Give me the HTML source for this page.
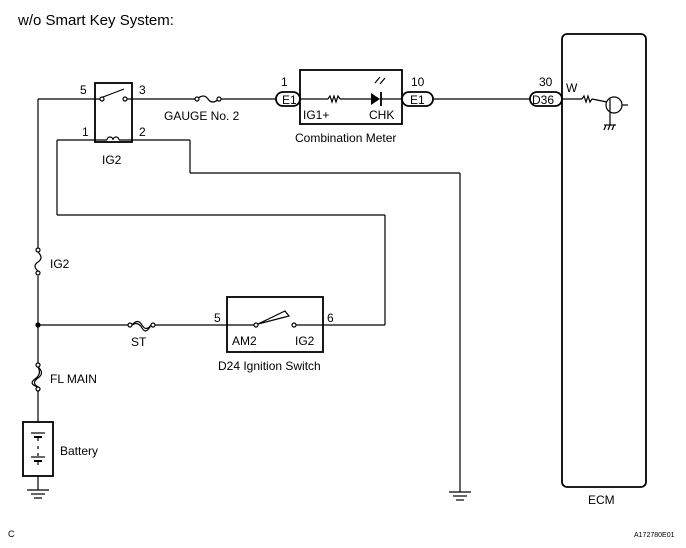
<!DOCTYPE html>
<html><head><style>
html,body{margin:0;padding:0;background:#fff;}
svg{display:block;}
text{font-family:"Liberation Sans",Arial,sans-serif;fill:#000;}
</style></head><body>
<svg width="686" height="548" viewBox="0 0 686 548" xmlns="http://www.w3.org/2000/svg">
<g stroke="#000" stroke-width="1.2" fill="none">
<line x1="38" y1="99" x2="38" y2="248"/>
<line x1="38" y1="276" x2="38" y2="366"/>
<line x1="38" y1="389" x2="38" y2="422"/>
<line x1="38" y1="476" x2="38" y2="490"/>
<line x1="38" y1="99" x2="102" y2="99"/>
<rect x="95" y="83" width="37" height="59" stroke-width="1.8"/>
<circle cx="102" cy="99" r="2" fill="#fff"/>
<circle cx="125" cy="99" r="2" fill="#fff"/>
<line x1="103" y1="97" x2="124" y2="89"/>
<line x1="127" y1="99" x2="197" y2="99"/>
<path d="M197 99 Q204 93 208 99 T219 99"/>
<circle cx="197" cy="99" r="2" fill="#fff"/>
<circle cx="219" cy="99" r="2" fill="#fff"/>
<line x1="221" y1="99" x2="276" y2="99"/>
<line x1="57" y1="140" x2="107" y2="140"/>
<path d="M107 140 a3 3 0 0 1 6 0 a3 3 0 0 1 6 0"/>
<line x1="119" y1="140" x2="190" y2="140"/>
<line x1="190" y1="140" x2="190" y2="173"/>
<line x1="190" y1="173" x2="460" y2="173"/>
<line x1="460" y1="173" x2="460" y2="492"/>
<line x1="57" y1="140" x2="57" y2="215"/>
<line x1="57" y1="215" x2="385" y2="215"/>
<line x1="385" y1="215" x2="385" y2="325"/>
<line x1="385" y1="325" x2="323" y2="325"/>
<rect x="276" y="92" width="24" height="14" rx="7" stroke-width="1.8"/>
<rect x="402" y="92" width="31" height="14" rx="7" stroke-width="1.8"/>
<rect x="530" y="92" width="32" height="14" rx="7" stroke-width="1.8"/>
<rect x="300" y="70" width="102" height="54" stroke-width="1.8"/>
<line x1="300" y1="99" x2="328" y2="99"/>
<path d="M328 99 l2 -3 l2 6 l2 -6 l2 6 l2 -6 l2 3"/>
<line x1="340" y1="99" x2="371" y2="99"/>
<line x1="381" y1="92" x2="381" y2="106" stroke-width="1.8"/>
<line x1="381" y1="99" x2="402" y2="99"/>
<line x1="375" y1="83" x2="380" y2="77"/><line x1="380" y1="84" x2="385" y2="78"/>
<line x1="433" y1="99" x2="530" y2="99"/>
<rect x="562" y="34" width="84" height="453" rx="5" stroke-width="1.8"/>
<line x1="562" y1="99" x2="582" y2="99"/>
<path d="M582 99 l2 -3 l2 6 l2 -6 l2 6 l2 -3"/>
<line x1="592" y1="99" x2="607" y2="102"/>
<circle cx="614" cy="105" r="8"/>
<line x1="610" y1="99" x2="610" y2="112"/>
<line x1="622" y1="105" x2="628" y2="105"/>
<line x1="610" y1="112" x2="610" y2="125"/>
<line x1="604" y1="125" x2="616" y2="125"/>
<line x1="604" y1="130" x2="606" y2="125"/><line x1="608" y1="130" x2="610" y2="125"/><line x1="612" y1="130" x2="614" y2="125"/>
<circle cx="38" cy="250" r="2" fill="#fff"/>
<circle cx="38" cy="273" r="2" fill="#fff"/>
<path d="M38 252 Q44 258 38 262 T38 271"/>
<line x1="38" y1="325" x2="128" y2="325"/>
<circle cx="130" cy="325" r="2" fill="#fff"/>
<circle cx="153" cy="325" r="2" fill="#fff"/>
<path d="M132 325 Q138 318 142 325 T151 325"/>
<path d="M132 325 Q138 321 142 328 T151 325"/>
<line x1="155" y1="325" x2="227" y2="325"/>
<circle cx="38" cy="325" r="2" fill="#000"/>
<circle cx="38" cy="365" r="2" fill="#fff"/>
<circle cx="38" cy="389" r="2" fill="#fff"/>
<path d="M38 367 Q45 373 38 378 T38 387"/>
<path d="M38 367 Q42 374 35 379 T38 387"/>
<rect x="227" y="297" width="96" height="55" stroke-width="1.8"/>
<line x1="227" y1="325" x2="254" y2="325"/>
<circle cx="256" cy="325" r="2" fill="#fff"/>
<path d="M258 324 L285 311 L289 316 Z"/>
<circle cx="294" cy="325" r="2" fill="#fff"/>
<line x1="296" y1="325" x2="323" y2="325"/>
<rect x="23" y="422" width="30" height="54" stroke-width="1.8"/>
<line x1="31" y1="433" x2="45" y2="433"/>
<line x1="34" y1="437" x2="42" y2="437" stroke-width="2"/>
<line x1="38" y1="437" x2="38" y2="441"/>
<line x1="38" y1="446" x2="38" y2="449"/>
<line x1="38" y1="453" x2="38" y2="456"/>
<line x1="31" y1="457" x2="45" y2="457"/>
<line x1="34" y1="461" x2="42" y2="461" stroke-width="2"/>
<line x1="38" y1="461" x2="38" y2="465"/>
<line x1="27" y1="490" x2="49" y2="490"/><line x1="31" y1="494" x2="45" y2="494"/><line x1="34" y1="498" x2="42" y2="498"/>
<line x1="449" y1="492" x2="471" y2="492"/><line x1="453" y1="496" x2="467" y2="496"/><line x1="456" y1="500" x2="464" y2="500"/>
</g>
<polygon points="371,93 371,105 380,99" fill="#000"/>
<text x="18" y="25" font-size="15">w/o Smart Key System:</text>
<text x="80" y="94" font-size="12">5</text>
<text x="139" y="94" font-size="12">3</text>
<text x="82" y="136" font-size="12">1</text>
<text x="139" y="136" font-size="12">2</text>
<text x="102" y="164" font-size="12">IG2</text>
<text x="164" y="120" font-size="12">GAUGE No. 2</text>
<text x="281" y="86" font-size="12">1</text>
<text x="282" y="104" font-size="12">E1</text>
<text x="411" y="86" font-size="12">10</text>
<text x="410" y="104" font-size="12">E1</text>
<text x="303" y="119" font-size="12">IG1+</text>
<text x="369" y="119" font-size="12">CHK</text>
<text x="295" y="142" font-size="12">Combination Meter</text>
<text x="539" y="86" font-size="12">30</text>
<text x="532" y="104" font-size="12">D36</text>
<text x="566" y="92" font-size="12">W</text>
<text x="50" y="268" font-size="12">IG2</text>
<text x="131" y="346" font-size="12">ST</text>
<text x="214" y="322" font-size="12">5</text>
<text x="327" y="322" font-size="12">6</text>
<text x="232" y="345" font-size="12">AM2</text>
<text x="295" y="345" font-size="12">IG2</text>
<text x="218" y="370" font-size="12">D24 Ignition Switch</text>
<text x="50" y="383" font-size="12">FL MAIN</text>
<text x="60" y="455" font-size="12">Battery</text>
<text x="588" y="504" font-size="12">ECM</text>
<text x="8" y="537" font-size="9">C</text>
<text x="634" y="537" font-size="7">A172780E01</text>
</svg>
</body></html>
